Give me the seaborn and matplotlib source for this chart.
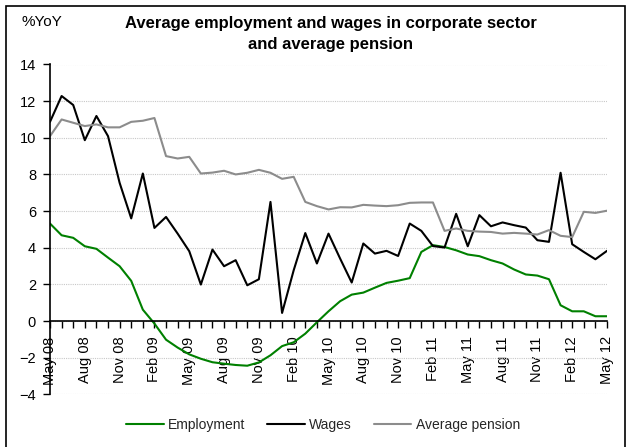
import matplotlib
matplotlib.use("Agg")
import matplotlib.pyplot as plt
import pandas as pd
import seaborn as sns
from matplotlib.lines import Line2D
from matplotlib.patches import Rectangle

# Monthly year-on-year growth, May 2008 .. May 2012
employment = [5.32, 4.68, 4.54, 4.08, 3.94, 3.46, 2.99, 2.19, 0.62, -0.14,
              -1.02, -1.45, -1.82, -2.06, -2.25, -2.33, -2.40, -2.44, -2.26, -1.87,
              -1.37, -1.16, -0.69, -0.07, 0.53, 1.08, 1.44, 1.55, 1.82, 2.08,
              2.20, 2.34, 3.77, 4.14, 4.04, 3.86, 3.63, 3.54, 3.32, 3.14,
              2.81, 2.54, 2.48, 2.28, 0.86, 0.53, 0.53, 0.26, 0.26]
wages = [10.87, 12.28, 11.79, 9.87, 11.19, 10.09, 7.54, 5.60, 8.05, 5.08,
         5.68, 4.77, 3.81, 1.99, 3.90, 2.99, 3.32, 1.95, 2.28, 6.50,
         0.44, 2.77, 4.80, 3.14, 4.77, 3.41, 2.10, 4.23, 3.68, 3.83,
         3.55, 5.32, 4.92, 4.09, 4.01, 5.85, 4.08, 5.78, 5.17, 5.38,
         5.23, 5.10, 4.41, 4.32, 8.09, 4.19, 3.77, 3.37, 3.83]
pension = [10.09, 11.00, 10.82, 10.64, 10.73, 10.57, 10.57, 10.87, 10.93, 11.08,
           9.00, 8.87, 8.96, 8.05, 8.10, 8.20, 8.00, 8.09, 8.25, 8.09,
           7.76, 7.87, 6.50, 6.27, 6.09, 6.21, 6.20, 6.34, 6.30, 6.27,
           6.32, 6.45, 6.47, 6.47, 4.92, 5.05, 4.92, 4.88, 4.86, 4.77,
           4.81, 4.77, 4.72, 4.96, 4.65, 4.58, 5.96, 5.90, 6.02]

tick_labels = ["May 08", "Aug 08", "Nov 08", "Feb 09", "May 09", "Aug 09",
               "Nov 09", "Feb 10", "May 10", "Aug 10", "Nov 10", "Feb 11",
               "May 11", "Aug 11", "Nov 11", "Feb 12", "May 12"]

series_names = ["Employment", "Wages", "Average pension"]
colors = {"Employment": "#008000", "Wages": "#000000", "Average pension": "#8c8c8c"}

n_months = len(wages)
df = pd.DataFrame({"month": range(n_months),
                   "Employment": employment,
                   "Wages": wages,
                   "Average pension": pension})
long_df = df.melt(id_vars="month", var_name="series", value_name="yoy")

sns.set_theme(style="white")
plt.rcParams["font.family"] = ["Liberation Sans", "DejaVu Sans"]

W, H = 626, 447
fig = plt.figure(figsize=(W / 100, H / 100), dpi=100)
ax = fig.add_axes([50 / W, 1 - 394.3 / H, 557 / W, (394.3 - 64.5) / H])

sns.lineplot(data=long_df, x="month", y="yoy", hue="series",
             hue_order=series_names, palette=colors, linewidth=1.5,
             ax=ax, legend=False)

ax.set_xlim(0, n_months - 1)
ax.set_ylim(-4, 14)
ax.set_xlabel("")
ax.set_ylabel("")

# y axis
ax.set_yticks(range(-4, 15, 2))
ax.yaxis.grid(True, color="#c8c8c8", linestyle=(0, (1, 1)), linewidth=0.8)
ax.xaxis.grid(False)
ax.tick_params(axis="y", direction="out", length=5, width=1, pad=5,
               labelsize=10.5, colors="black", left=True)

# x axis sits on the zero line; a tick every month, a label every quarter
ax.spines["bottom"].set_position(("data", 0))
for side in ("top", "right"):
    ax.spines[side].set_visible(False)
for side in ("left", "bottom"):
    ax.spines[side].set_color("black")
    ax.spines[side].set_linewidth(1.2)
ax.set_xticks(range(0, n_months, 3), labels=tick_labels, rotation=90)
ax.set_xticks(range(n_months), minor=True)
ax.tick_params(axis="x", which="both", direction="out", length=5, width=1,
               pad=6, labelsize=10.5, colors="black", bottom=True)
ax.set_axisbelow(True)

# titles
fig.text(331 / W, 1 - 34 / H,
         "Average employment and wages in corporate sector\nand average pension",
         ha="center", va="center", fontsize=12, fontweight="bold",
         linespacing=1.5, color="black")
fig.text(42 / W, 1 - 22 / H, "%YoY", ha="center", va="center",
         fontsize=11, color="black")

# legend
handles = [Line2D([], [], color=colors[n], linewidth=1.5) for n in series_names]
fig.legend(handles, series_names, loc="center",
           bbox_to_anchor=(323 / W, 1 - 425 / H), ncol=3, frameon=False,
           fontsize=10, handlelength=2.7, handletextpad=0.3, columnspacing=1.6)

# outer frame
fig.add_artist(Rectangle((5.5 / W, -0.05), 619 / W, 1.05 - 5.5 / H,
                         transform=fig.transFigure, fill=False,
                         edgecolor="black", linewidth=1.2, clip_on=False))

fig.savefig("out.png", dpi=100)
